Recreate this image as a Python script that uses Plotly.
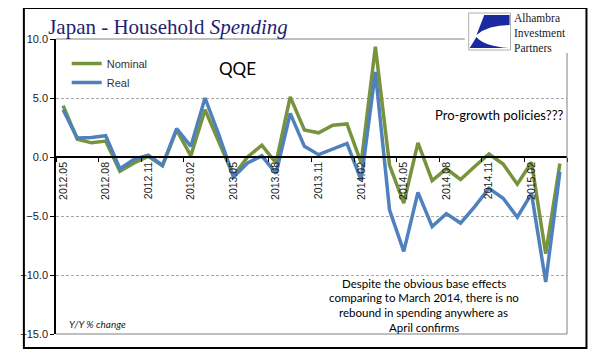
import plotly.graph_objects as go

months = ["2012.05","2012.06","2012.07","2012.08","2012.09","2012.10","2012.11","2012.12",
          "2013.01","2013.02","2013.03","2013.04","2013.05","2013.06","2013.07","2013.08",
          "2013.09","2013.10","2013.11","2013.12","2014.01","2014.02","2014.03","2014.04",
          "2014.05","2014.06","2014.07","2014.08","2014.09","2014.10","2014.11","2014.12",
          "2015.01","2015.02","2015.03","2015.04"]
nominal = [4.35, 1.5, 1.2, 1.35, -1.2, -0.5, 0.05, -0.75,
           2.3, 0.1, 4.0, 1.2, -1.6, 0.0, 1.0, -0.5,
           5.1, 2.3, 2.05, 2.7, 2.8, -0.5, 9.35, -0.7,
           -3.9, 1.2, -2.0, -1.0, -1.9, -0.8, 0.25, -0.6,
           -2.3, -0.45, -8.2, -0.55]
real = [4.0, 1.6, 1.65, 1.8, -1.0, -0.2, 0.15, -0.7,
        2.4, 0.9, 5.0, 1.8, -1.7, -0.5, 0.1, -1.4,
        3.7, 0.9, 0.2, 0.65, 1.15, -1.95, 7.2, -4.5,
        -8.0, -3.0, -5.9, -4.8, -5.6, -4.2, -2.65, -3.5,
        -5.1, -3.1, -10.6, -1.25]
qqe_month = "2013.03"

GREEN = "#77933C"
BLUE = "#4F81BD"

# The page body has an 8px margin; the figure is sized to fill the rest of the window.
OFF = 8
W, H = 596 - OFF, 357 - OFF
# window-pixel -> paper helpers (plot area 42..567 x 39..334 in window pixels)
L, R, T, B = 42, 567, 39, 334
def X(px): return (px - L) / (R - L)
def Y(py): return (B - py) / (B - T)

fig = go.Figure()
fig.add_trace(go.Scatter(x=months, y=nominal, mode="lines", name="Nominal",
                         line=dict(color=GREEN, width=3.5)))
fig.add_trace(go.Scatter(x=months, y=real, mode="lines", name="Real",
                         line=dict(color=BLUE, width=3.5)))

shapes = []
# outer frame
shapes.append(dict(type="rect", xref="paper", yref="paper", x0=X(9), x1=X(587), y0=Y(348), y1=Y(8),
                   line=dict(color="black", width=2), layer="above"))
# plot area borders (gray)
for x0, x1, y0, y1 in [(0, 1, 1, 1), (1, 1, 0, 1), (0, 1, 0, 0)]:
    shapes.append(dict(type="line", xref="paper", yref="paper", x0=x0, x1=x1, y0=y0, y1=y1,
                       line=dict(color="#808080", width=1)))
# QQE line
shapes.append(dict(type="line", xref="x", yref="y", x0=qqe_month, x1=qqe_month, y0=0, y1=10,
                   line=dict(color=BLUE, width=1)))
# logo
shapes.append(dict(type="rect", xref="paper", yref="paper", x0=X(462), x1=X(585), y0=Y(53), y1=Y(11),
                   fillcolor="white", line=dict(width=0), layer="above"))
shapes.append(dict(type="rect", xref="paper", yref="paper", x0=X(466), x1=X(509), y0=Y(50), y1=Y(13),
                   fillcolor="white", line=dict(color="#B0B0B0", width=1), layer="above"))
def path(pts):
    s = "M {},{}".format(X(pts[0][0]), Y(pts[0][1]))
    for p in pts[1:]:
        if p[0] == "Q":
            s += " Q {},{} {},{}".format(X(p[1]), Y(p[2]), X(p[3]), Y(p[4]))
        else:
            s += " L {},{}".format(X(p[0]), Y(p[1]))
    return s + " Z"
NAVY = "#1A2A9E"
shapes.append(dict(type="path", xref="paper", yref="paper", layer="above",
                   path=path([(482, 15), (508, 15), (508, 25), ("Q", 486, 25, 474, 35)]),
                   fillcolor=NAVY, line=dict(width=0)))
shapes.append(dict(type="path", xref="paper", yref="paper", layer="above",
                   path=path([(474, 37), ("Q", 481, 46, 507, 48), (467, 48)]),
                   fillcolor=NAVY, line=dict(width=0)))

annotations = [
    dict(text="QQE", xref="paper", yref="paper", x=X(207), y=Y(68), xanchor="left", yanchor="middle",
         showarrow=False, font=dict(family="Lato", size=17, color="black")),
    dict(text="Pro-growth policies???", xref="paper", yref="paper", x=X(565), y=Y(115),
         xanchor="right", yanchor="middle", showarrow=False,
         font=dict(family="Lato", size=13, color="black")),
    dict(text="<i>Y/Y % change</i>", xref="paper", yref="paper", x=X(53), y=Y(324), xanchor="left",
         yanchor="middle", showarrow=False,
         font=dict(family="Lato", size=10, color="#222")),
    dict(text="Alhambra<br>Investment<br>Partners", xref="paper", yref="paper", x=X(511), y=Y(33),
         xanchor="left", yanchor="middle", align="left", showarrow=False,
         font=dict(family="Liberation Serif", size=11.5, color="#1a1a1a")),
]
desc = ["Despite the obvious base effects", "comparing to March 2014, there is no",
        "rebound in spending anywhere as", "April confirms"]
for i, line in enumerate(desc):
    annotations.append(dict(text=line, xref="paper", yref="paper", x=X(420), y=Y(283 + i * 14.8),
                            xanchor="center", yanchor="middle", showarrow=False,
                            font=dict(family="Lato", size=11.5, color="black")))

fig.update_layout(
    width=W, height=H,
    margin=dict(l=L - OFF, r=596 - R, t=T - OFF, b=357 - B),
    paper_bgcolor="white", plot_bgcolor="white",
    title=dict(text="Japan - Household <i>Spending</i>", x=(168 - OFF) / W, xanchor="center",
               y=1 - (27 - OFF) / H, yanchor="middle",
               font=dict(family="Liberation Serif", size=21, color="#1F1F70")),
    showlegend=True,
    legend=dict(x=X(53), y=Y(49), xanchor="left", yanchor="top", bgcolor="rgba(0,0,0,0)",
                font=dict(family="Liberation Sans", size=11, color="#333"), tracegroupgap=0),
    shapes=shapes, annotations=annotations,
    xaxis=dict(type="category", range=[-0.5, len(months) - 0.5], anchor="free", position=0.6,
               showline=True, linecolor="black", linewidth=1.5, showgrid=False,
               tickmode="linear", tick0=0, dtick=3, tickson="boundaries",
               ticks="outside", ticklen=4, tickcolor="black", tickangle=-90,
               tickfont=dict(family="Liberation Sans", size=10.5, color="#222")),
    yaxis=dict(range=[-15, 10], dtick=5, tickformat=".1f", showline=True, linecolor="black",
               linewidth=1.5, ticks="outside", ticklen=4, tickcolor="black", zeroline=False,
               showgrid=True, gridcolor="#A6A6A6", gridwidth=1, griddash="3px,2px",
               tickfont=dict(family="Liberation Sans", size=11, color="#222")),
)
fig.write_html("out.html")
